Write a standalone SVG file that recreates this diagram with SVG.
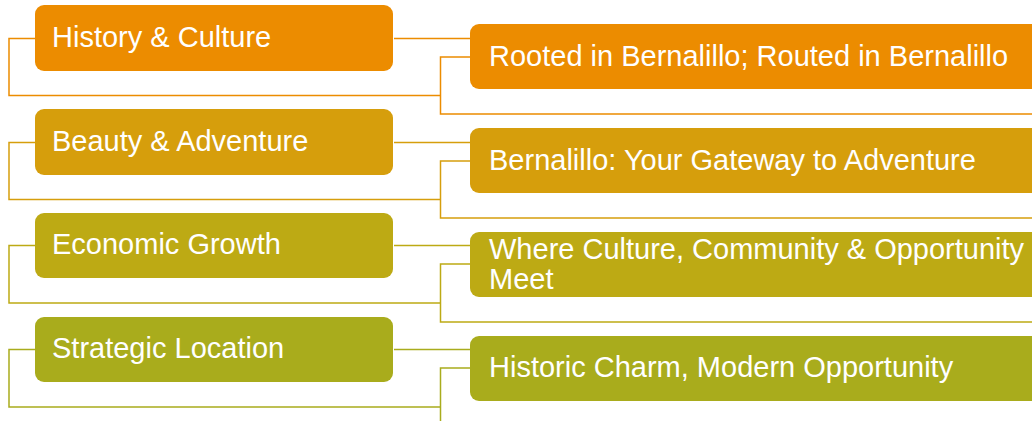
<svg xmlns="http://www.w3.org/2000/svg" width="1032" height="421" viewBox="0 0 1032 421">
<style>
.t{font-family:"Liberation Sans",Arial,sans-serif;font-size:29px;fill:#FFFFFF}
.c{fill:none;stroke-width:1.5}
.c1{stroke:#EC8C00}.c2{stroke:#D69E0C}.c3{stroke:#BDAA14}.c4{stroke:#A9AC1C}
</style>
<rect width="1032" height="421" fill="#FFFFFF"/>
<g id="connectors">
<path class="c c1" d="M35,38.5 H9 V95.5 H440"/>
<path class="c c1" d="M394,38.5 H470"/>
<path class="c c1" d="M470,57 H440.5 V114 H1032"/>
<path class="c c2" d="M35,142.5 H9 V199.5 H440"/>
<path class="c c2" d="M394,142.5 H470"/>
<path class="c c2" d="M470,161 H440.5 V218 H1032"/>
<path class="c c3" d="M35,245.5 H9 V303 H440"/>
<path class="c c3" d="M394,245.5 H470"/>
<path class="c c3" d="M470,264 H440.5 V322 H1032"/>
<path class="c c4" d="M35,349.5 H9 V407 H440"/>
<path class="c c4" d="M394,349.5 H470"/>
<path class="c c4" d="M470,368 H440.5 V421"/>
</g>
<g id="n1">
<rect x="35" y="5" width="358" height="66" rx="9" fill="#EC8C00"/>
<text class="t" x="52" y="47">History &amp; Culture</text>
</g>
<g id="n2">
<rect x="35" y="109" width="358" height="66" rx="9" fill="#D69E0C"/>
<text class="t" x="52" y="151">Beauty &amp; Adventure</text>
</g>
<g id="n3">
<rect x="35" y="213" width="358" height="65" rx="9" fill="#BDAA14"/>
<text class="t" x="52" y="254">Economic Growth</text>
</g>
<g id="n4">
<rect x="35" y="317" width="358" height="65" rx="9" fill="#A9AC1C"/>
<text class="t" x="52" y="358">Strategic Location</text>
</g>
<g id="r1">
<rect x="470" y="24" width="600" height="65" rx="9" fill="#EC8C00"/>
<text class="t" x="489" y="66">Rooted in Bernalillo; Routed in Bernalillo</text>
</g>
<g id="r2">
<rect x="470" y="128" width="600" height="65" rx="9" fill="#D69E0C"/>
<text class="t" x="489" y="170">Bernalillo: Your Gateway to Adventure</text>
</g>
<g id="r3">
<rect x="470" y="232" width="600" height="65" rx="9" fill="#BDAA14"/>
<text class="t" x="489" y="259">Where Culture, Community &amp; Opportunity</text>
<text class="t" x="489" y="289">Meet</text>
</g>
<g id="r4">
<rect x="470" y="336" width="600" height="65" rx="9" fill="#A9AC1C"/>
<text class="t" x="489" y="377">Historic Charm, Modern Opportunity</text>
</g>
</svg>
